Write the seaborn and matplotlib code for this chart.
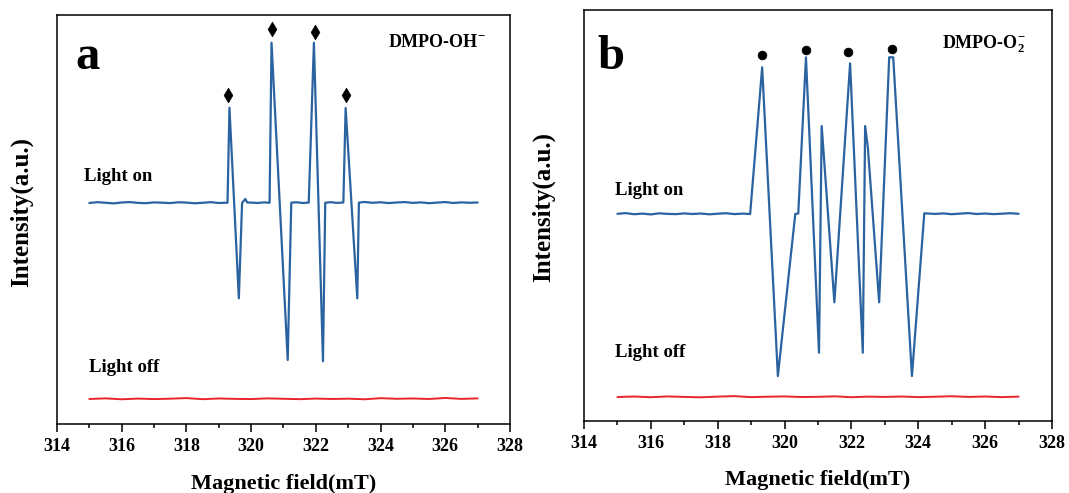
import matplotlib
matplotlib.use("Agg")
import matplotlib.pyplot as plt
from matplotlib.ticker import MultipleLocator
import seaborn as sns
import pandas as pd

# ---------------- data ----------------
# Panel a: DMPO-OH adduct, light on (field in mT, intensity in a.u.)
field_a_on = [315.00, 315.25, 315.50, 315.75, 316.00, 316.25, 316.50, 316.75, 317.00,
              317.25, 317.50, 317.75, 318.00, 318.25, 318.50, 318.75, 319.00, 319.27,
              319.33, 319.62, 319.72, 319.82, 319.88, 320.00, 320.20, 320.40, 320.57,
              320.63, 321.13, 321.24, 321.40, 321.60, 321.78,
              321.94, 322.22, 322.29, 322.45, 322.65, 322.85,
              322.92, 323.28, 323.33, 323.50, 323.75, 324.00, 324.25, 324.50, 324.75,
              325.00, 325.25, 325.50, 325.75, 326.00, 326.25, 326.50, 326.75, 327.00]
signal_a_on = [221.0, 221.8, 221.2, 220.6, 221.5, 221.9, 221.1, 220.8, 221.6,
               221.3, 220.9, 221.7, 221.4, 220.7, 221.2, 221.8, 221.0, 221.3,
               316.3, 125.7, 221.0, 225.0, 221.5, 221.4, 221.0, 221.6, 221.2,
               381.3, 64.0, 221.3, 221.7, 221.0, 221.4,
               381.3, 62.7, 221.2, 221.8, 221.1, 221.5,
               316.0, 125.7, 221.4, 222.0, 221.2, 221.7, 220.9, 221.5, 221.9,
               221.1, 221.6, 220.8, 221.4, 221.9, 221.0, 221.6, 221.2, 221.5]

# Panel a: light off
field_a_off = [315.0, 315.5, 316.0, 316.5, 317.0, 317.5, 318.0, 318.5, 319.0, 319.5,
               320.0, 320.5, 321.0, 321.5, 322.0, 322.5, 323.0, 323.5, 324.0, 324.5,
               325.0, 325.5, 326.0, 326.5, 327.0]
signal_a_off = [25.0, 25.6, 24.7, 25.4, 24.9, 25.3, 25.9, 24.8, 25.5, 25.1,
                24.9, 25.6, 25.2, 24.8, 25.4, 25.0, 25.3, 24.7, 25.8, 25.2,
                25.5, 25.0, 26.0, 25.1, 25.6]

# Panel a: hydroxyl adduct markers
mark_a_field = [319.27, 320.63, 321.98, 322.94]
mark_a_height = [329.0, 394.7, 392.3, 329.0]

# Panel b: DMPO-O2 adduct, light on
field_b_on = [315.00, 315.25, 315.50, 315.75, 316.00, 316.25, 316.50, 316.75, 317.00,
              317.25, 317.50, 317.75, 318.00, 318.25, 318.50, 318.75, 318.97,
              319.33, 319.80, 320.32, 320.41, 320.64, 321.03, 321.11, 321.49,
              321.96, 322.34, 322.41, 322.49, 322.83, 323.13, 323.25, 323.81, 324.18,
              324.50, 324.75, 325.00, 325.25, 325.50, 325.75, 326.00, 326.25, 326.50,
              326.75, 327.00]
signal_b_on = [207.2, 207.9, 206.8, 207.4, 206.6, 207.7, 207.1, 206.9, 207.6,
               207.0, 207.5, 206.7, 207.3, 207.8, 206.9, 207.4, 207.0,
               353.7, 45.0, 207.0, 207.5, 363.7, 68.3, 295.0, 118.7,
               357.7, 68.3, 295.0, 274.0, 118.7, 363.7, 363.7, 45.0, 207.7,
               207.1, 207.6, 206.8, 207.4, 207.9, 207.0, 207.5, 206.9, 207.3,
               207.8, 207.2]

# Panel b: light off
field_b_off = field_a_off
signal_b_off = [24.0, 24.5, 23.8, 24.6, 24.1, 23.7, 24.4, 24.9, 23.9, 24.3,
                24.6, 24.0, 24.2, 24.7, 23.8, 24.4, 24.1, 24.5, 23.9, 24.3,
                24.8, 24.1, 24.5, 23.9, 24.4]

# Panel b: superoxide adduct markers
mark_b_field = [319.33, 320.65, 321.91, 323.22]
mark_b_height = [365.7, 371.0, 368.7, 372.0]

xticks_major = [314, 316, 318, 320, 322, 324, 326, 328]

# ---------------- style ----------------
sns.set_style("ticks")
plt.rcParams["font.family"] = ["Liberation Serif", "DejaVu Serif"]
plt.rcParams["font.weight"] = "bold"
plt.rcParams["text.color"] = "black"
plt.rcParams["axes.labelcolor"] = "black"
plt.rcParams["xtick.color"] = "black"
plt.rcParams["ytick.color"] = "black"
plt.rcParams["mathtext.fontset"] = "custom"
plt.rcParams["mathtext.rm"] = "Liberation Serif:bold"
plt.rcParams["mathtext.bf"] = "Liberation Serif:bold"
plt.rcParams["mathtext.it"] = "Liberation Serif:bold"

BLUE = "#2b63a0"
RED = "#e8252b"

fig = plt.figure(figsize=(10.69, 4.93), dpi=100)
ax_a = fig.add_axes([0.0533, 0.140, 0.4238, 0.8286])
ax_b = fig.add_axes([0.5463, 0.146, 0.4378, 0.8337])


def draw_panel(ax, f_on, s_on, f_off, s_off, mf, mh, marker, msize, ymax):
    on = pd.DataFrame({"field": f_on, "signal": s_on})
    off = pd.DataFrame({"field": f_off, "signal": s_off})
    marks = pd.DataFrame({"field": mf, "signal": mh})
    sns.lineplot(data=on, x="field", y="signal", ax=ax, color=BLUE, lw=1.6,
                 sort=False, estimator=None)
    sns.lineplot(data=off, x="field", y="signal", ax=ax, color=RED, lw=1.4,
                 sort=False, estimator=None)
    sns.scatterplot(data=marks, x="field", y="signal", ax=ax, color="black",
                    marker=marker, s=msize, edgecolor="black", linewidth=0.5, zorder=5)
    ax.set_xlim(314, 328)
    ax.set_ylim(0, ymax)
    ax.set_xticks(xticks_major)
    ax.xaxis.set_minor_locator(MultipleLocator(1))
    ax.set_yticks([])
    ax.tick_params(axis="x", which="major", direction="out", length=6, width=1.1,
                   labelsize=13, pad=4, colors="black")
    ax.tick_params(axis="x", which="minor", direction="out", length=3, width=1.1,
                   colors="black")
    for lab in ax.get_xticklabels():
        lab.set_fontweight("bold")
    for sp in ax.spines.values():
        sp.set_visible(True)
        sp.set_linewidth(1.1)
        sp.set_color("black")
    ax.set_xlabel("Magnetic field(mT)", fontsize=16, fontweight="bold", va="top")
    ax.set_ylabel("Intensity(a.u.)", fontsize=18, fontweight="bold")


draw_panel(ax_a, field_a_on, signal_a_on, field_a_off, signal_a_off,
           mark_a_field, mark_a_height, "d", 55, 408.5)
draw_panel(ax_b, field_b_on, signal_b_on, field_b_off, signal_b_off,
           mark_b_field, mark_b_height, "o", 40, 411)

ax_a.xaxis.set_label_coords(0.5, -0.122)
ax_b.xaxis.set_label_coords(0.5, -0.118)
ax_a.yaxis.set_label_coords(-0.053, 0.52)
ax_b.yaxis.set_label_coords(-0.062, 0.52)

# panel letters and adduct names
ax_a.text(0.067, 0.869, "a", transform=ax_a.transAxes, fontsize=35,
          fontweight="bold", ha="center", va="baseline")
ax_b.text(0.0575, 0.856, "b", transform=ax_b.transAxes, fontsize=35,
          fontweight="bold", ha="center", va="baseline")
ax_a.text(0.731, 0.933, r"DMPO-OH$^{-}$", transform=ax_a.transAxes, fontsize=13,
          fontweight="bold", ha="left", va="center")
ax_b.text(0.764, 0.9175, r"DMPO-O$_{2}^{-}$", transform=ax_b.transAxes, fontsize=13,
          fontweight="bold", ha="left", va="center")

# trace labels
ax_a.text(314.82, 247, "Light on", fontsize=13.5, fontweight="bold", ha="left", va="center")
ax_a.text(314.98, 56, "Light off", fontsize=13.5, fontweight="bold", ha="left", va="center")
ax_b.text(314.93, 230.7, "Light on", fontsize=13.5, fontweight="bold", ha="left", va="center")
ax_b.text(314.93, 69, "Light off", fontsize=13.5, fontweight="bold", ha="left", va="center")

fig.savefig("out.png", dpi=100)
